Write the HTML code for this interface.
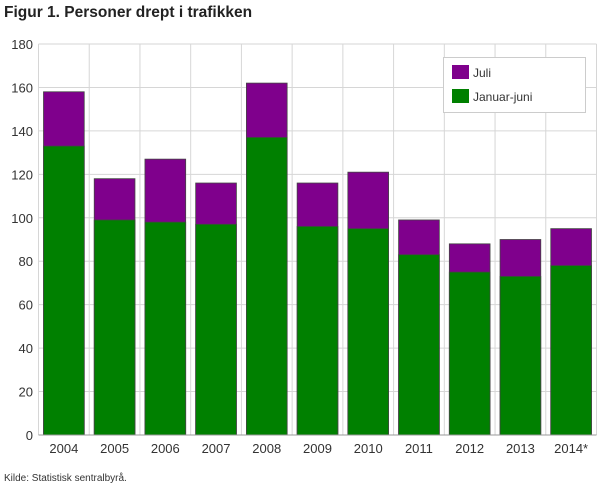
<!DOCTYPE html><html><head><style>body{margin:0;background:#fff}</style></head><body>
<svg width="610" height="488" xmlns="http://www.w3.org/2000/svg" font-family="Liberation Sans, sans-serif">
<text x="4" y="17" font-size="15.5" font-weight="bold" fill="#222">Figur 1. Personer drept i trafikken</text>
<g stroke="#d6d6d6">
<line x1="38.5" x2="596.5" y1="391.56" y2="391.56"/><line x1="38.5" x2="596.5" y1="348.11" y2="348.11"/><line x1="38.5" x2="596.5" y1="304.67" y2="304.67"/><line x1="38.5" x2="596.5" y1="261.22" y2="261.22"/><line x1="38.5" x2="596.5" y1="217.78" y2="217.78"/><line x1="38.5" x2="596.5" y1="174.33" y2="174.33"/><line x1="38.5" x2="596.5" y1="130.89" y2="130.89"/><line x1="38.5" x2="596.5" y1="87.44" y2="87.44"/><line x1="38.5" x2="596.5" y1="44" y2="44"/>
<line x1="38.5" x2="38.5" y1="44" y2="435"/><line x1="89.23" x2="89.23" y1="44" y2="435"/><line x1="139.95" x2="139.95" y1="44" y2="435"/><line x1="190.68" x2="190.68" y1="44" y2="435"/><line x1="241.41" x2="241.41" y1="44" y2="435"/><line x1="292.14" x2="292.14" y1="44" y2="435"/><line x1="342.86" x2="342.86" y1="44" y2="435"/><line x1="393.59" x2="393.59" y1="44" y2="435"/><line x1="444.32" x2="444.32" y1="44" y2="435"/><line x1="495.05" x2="495.05" y1="44" y2="435"/><line x1="545.77" x2="545.77" y1="44" y2="435"/><line x1="596.5" x2="596.5" y1="44" y2="435"/>
</g>
<g font-size="13" text-anchor="end" fill="#333">
<text x="33" y="440">0</text><text x="33" y="396.5">20</text><text x="33" y="353">40</text><text x="33" y="309.7">60</text><text x="33" y="266.2">80</text><text x="33" y="222.8">100</text><text x="33" y="179.3">120</text><text x="33" y="135.9">140</text><text x="33" y="92.4">160</text><text x="33" y="49">180</text>
</g>
<g stroke="#444" stroke-width="0.8" fill="#7f008c">
<rect x="43.5" y="91.79" width="40.73" height="343.21"/>
<rect x="94.23" y="178.68" width="40.73" height="256.32"/>
<rect x="144.95" y="159.13" width="40.73" height="275.87"/>
<rect x="195.68" y="183.02" width="40.73" height="251.98"/>
<rect x="246.41" y="83.10" width="40.73" height="351.9"/>
<rect x="297.14" y="183.02" width="40.73" height="251.98"/>
<rect x="347.86" y="172.16" width="40.73" height="262.84"/>
<rect x="398.59" y="219.95" width="40.73" height="215.05"/>
<rect x="449.32" y="243.84" width="40.73" height="191.16"/>
<rect x="500.05" y="239.50" width="40.73" height="195.5"/>
<rect x="550.77" y="228.64" width="40.73" height="206.36"/>
</g>
<g stroke="#444" stroke-width="0.8" fill="#008000">
<rect x="43.5" y="146.09" width="40.73" height="288.91"/>
<rect x="94.23" y="219.95" width="40.73" height="215.05"/>
<rect x="144.95" y="222.12" width="40.73" height="212.88"/>
<rect x="195.68" y="224.29" width="40.73" height="210.71"/>
<rect x="246.41" y="137.41" width="40.73" height="297.59"/>
<rect x="297.14" y="226.47" width="40.73" height="208.53"/>
<rect x="347.86" y="228.64" width="40.73" height="206.36"/>
<rect x="398.59" y="254.71" width="40.73" height="180.29"/>
<rect x="449.32" y="272.08" width="40.73" height="162.92"/>
<rect x="500.05" y="276.43" width="40.73" height="158.57"/>
<rect x="550.77" y="265.57" width="40.73" height="169.43"/>
</g>
<line x1="38.5" x2="596.5" y1="435" y2="435" stroke="#999"/>
<g font-size="13" text-anchor="middle" fill="#333">
<text x="63.86" y="453">2004</text><text x="114.59" y="453">2005</text><text x="165.32" y="453">2006</text><text x="216.05" y="453">2007</text><text x="266.77" y="453">2008</text><text x="317.5" y="453">2009</text><text x="368.23" y="453">2010</text><text x="418.95" y="453">2011</text><text x="469.68" y="453">2012</text><text x="520.41" y="453">2013</text><text x="571.14" y="453">2014*</text>
</g>
<rect x="443.5" y="57.5" width="142" height="55" fill="#fff" stroke="#ccc"/>
<rect x="452" y="65" width="17" height="14" fill="#7f008c"/><text x="473" y="77" font-size="12" fill="#333">Juli</text>
<rect x="452" y="89" width="17" height="14" fill="#008000"/><text x="473" y="101" font-size="12" fill="#333">Januar-juni</text>
<text x="4" y="481" font-size="10" fill="#333">Kilde: Statistisk sentralbyrå.</text>
</svg></body></html>
